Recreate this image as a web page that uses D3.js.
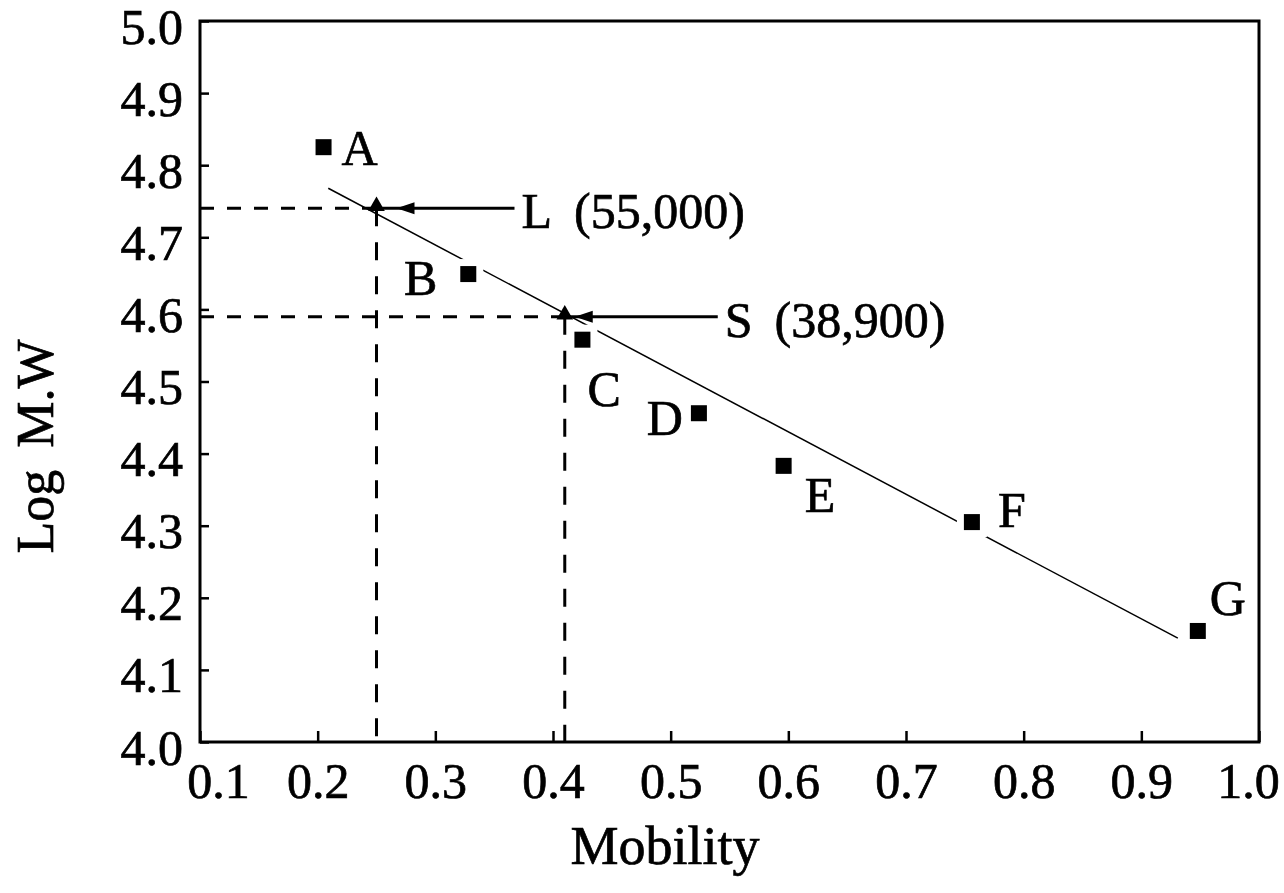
<!DOCTYPE html>
<html>
<head>
<meta charset="utf-8">
<script src="https://cdn.jsdelivr.net/npm/d3@7"></script>
<style>
  body { margin: 0; background: #fff; }
  svg text { font-family: "Liberation Serif", "Times New Roman", serif; fill: #000; stroke: #000; stroke-width: 0.7px; }
</style>
</head>
<body>
<svg id="chart" width="1284" height="893"></svg>
<script>
// Marker proteins: mobility vs log molecular weight
const markerNames    = ["A", "B", "C", "D", "E", "F", "G"];
const markerMobility = [0.205, 0.328, 0.425, 0.524, 0.596, 0.756, 0.948];
const markerLogMW    = [4.825, 4.649, 4.558, 4.456, 4.383, 4.305, 4.154];

// Standard curve end points
const fitMobility = [0.209, 0.931];
const fitLogMW    = [4.768, 4.144];

// Unknown samples
const sampleNames    = ["L", "S"];
const sampleMW       = [55000, 38900];
const sampleMobility = [0.25, 0.41];

// Axis ticks
const xTicks = [0.1, 0.2, 0.3, 0.4, 0.5, 0.6, 0.7, 0.8, 0.9, 1.0];
const yTicks = [4.0, 4.1, 4.2, 4.3, 4.4, 4.5, 4.6, 4.7, 4.8, 4.9, 5.0];

// Layout
const plot = { left: 200, right: 1259, top: 21, bottom: 742 };
const fontSize = 50;
const markerLabelOffset = {
  A: [18, 18, "start"], B: [-31, 21, "end"], C: [5, 66, "start"], D: [-16, 22, "end"],
  E: [21, 46, "start"], F: [26, 5, "start"], G: [12, -16, "start"]
};
const sampleLayout = { L: { tip: 20, text: 145 }, S: { tip: 10, text: 160 } };

const svg = d3.select("#chart");
const x = d3.scaleLinear().domain([0.1, 1.0]).range([plot.left, plot.right]);
const y = d3.scaleLinear().domain([4.0, 5.0]).range([plot.bottom, plot.top]);

// Y axis
const gy = svg.append("g")
  .attr("transform", `translate(${plot.left},0)`)
  .call(d3.axisLeft(y).tickValues(yTicks).tickFormat(d3.format(".1f"))
    .tickSizeInner(-9).tickSizeOuter(0).tickPadding(17));
gy.select(".domain").remove();
gy.selectAll(".tick line").attr("stroke", "#000").attr("stroke-width", 2.5);
gy.selectAll(".tick text").attr("font-size", fontSize).attr("y", 6)
  .style("font-family", "'Liberation Serif', serif");

// X axis
const gx = svg.append("g")
  .attr("transform", `translate(0,${plot.bottom})`)
  .call(d3.axisBottom(x).tickValues(xTicks).tickFormat(d => d3.format(".1f")(d))
    .tickSizeInner(-11).tickSizeOuter(0).tickPadding(20));
gx.select(".domain").remove();
gx.selectAll(".tick line").attr("stroke", "#000").attr("stroke-width", 2.5);
gx.selectAll(".tick text").attr("font-size", fontSize)
  .style("font-family", "'Liberation Serif', serif")
  .attr("dx", d => d === 0.1 ? 18 : (d === 1.0 ? -11 : 0));

// Frame
svg.append("rect")
  .attr("x", x(0.1)).attr("y", y(5.0))
  .attr("width", x(1.0) - x(0.1)).attr("height", y(4.0) - y(5.0))
  .attr("fill", "none").attr("stroke", "#000").attr("stroke-width", 3);

// Axis titles
const yTitle = svg.append("text")
  .attr("transform", `translate(53,${(y(4.0) + y(5.0)) / 2 + 65}) rotate(-90)`)
  .attr("text-anchor", "middle").attr("font-size", fontSize + 2);
yTitle.append("tspan").text("Log");
yTitle.append("tspan").attr("dx", 22).text("M.W");
svg.append("text")
  .attr("x", 665).attr("y", 864)
  .attr("text-anchor", "middle").attr("font-size", fontSize + 4)
  .text("Mobility");

// Drop lines from the curve to both axes for each sample
const samples = sampleNames.map((n, i) => ({
  name: n, mw: sampleMW[i], mob: sampleMobility[i], logmw: Math.log10(sampleMW[i])
}));
const dash = svg.append("g").attr("stroke", "#000").attr("stroke-width", 3).attr("fill", "none");
samples.forEach(s => {
  dash.append("line")
    .attr("x1", x(0.1)).attr("x2", x(s.mob))
    .attr("y1", y(s.logmw)).attr("y2", y(s.logmw))
    .attr("stroke-dasharray", "14,13");
  dash.append("line")
    .attr("x1", x(s.mob)).attr("x2", x(s.mob))
    .attr("y1", y(s.logmw)).attr("y2", y(4.0))
    .attr("stroke-dasharray", "18,16");
});

// Standard curve
const fit = fitMobility.map((m, i) => [m, fitLogMW[i]]);
svg.append("path")
  .datum(fit)
  .attr("d", d3.line().x(d => x(d[0])).y(d => y(d[1])))
  .attr("fill", "none").attr("stroke", "#000").attr("stroke-width", 1.5);

// Marker squares with a white halo where they sit on the curve
const markers = markerNames.map((n, i) => ({ name: n, mob: markerMobility[i], logmw: markerLogMW[i] }));
const sq = 16;
svg.append("g").selectAll("rect").data(markers).join("rect")
  .attr("x", d => x(d.mob) - sq / 2).attr("y", d => y(d.logmw) - sq / 2)
  .attr("width", sq).attr("height", sq)
  .attr("fill", "#000").attr("stroke", "#fff").attr("stroke-width", 14)
  .style("paint-order", "stroke");
svg.append("g").selectAll("text").data(markers).join("text")
  .attr("x", d => x(d.mob) + markerLabelOffset[d.name][0])
  .attr("y", d => y(d.logmw) + markerLabelOffset[d.name][1])
  .attr("text-anchor", d => markerLabelOffset[d.name][2])
  .attr("font-size", fontSize)
  .text(d => d.name);

// Sample points, arrows and labels
const fmt = d3.format(",");
samples.forEach(s => {
  const px = x(s.mob), py = y(s.logmw);
  const lay = sampleLayout[s.name];
  svg.append("path")
    .attr("transform", `translate(${px},${py - 2})`)
    .attr("d", d3.symbol(d3.symbolTriangle, 120)())
    .attr("fill", "#000");
  svg.append("line")
    .attr("x1", px + 4).attr("x2", px + lay.text - 7)
    .attr("y1", py).attr("y2", py)
    .attr("stroke", "#000").attr("stroke-width", 3);
  const tip = px + lay.tip;
  svg.append("path")
    .attr("d", `M${tip},${py} L${tip + 18},${py - 6} L${tip + 18},${py + 6} Z`)
    .attr("fill", "#000");
  const t = svg.append("text")
    .attr("x", px + lay.text).attr("y", py + 20)
    .attr("font-size", fontSize);
  t.append("tspan").text(s.name);
  t.append("tspan").attr("dx", 22).text(`(${fmt(s.mw)})`);
});
</script>
</body>
</html>
